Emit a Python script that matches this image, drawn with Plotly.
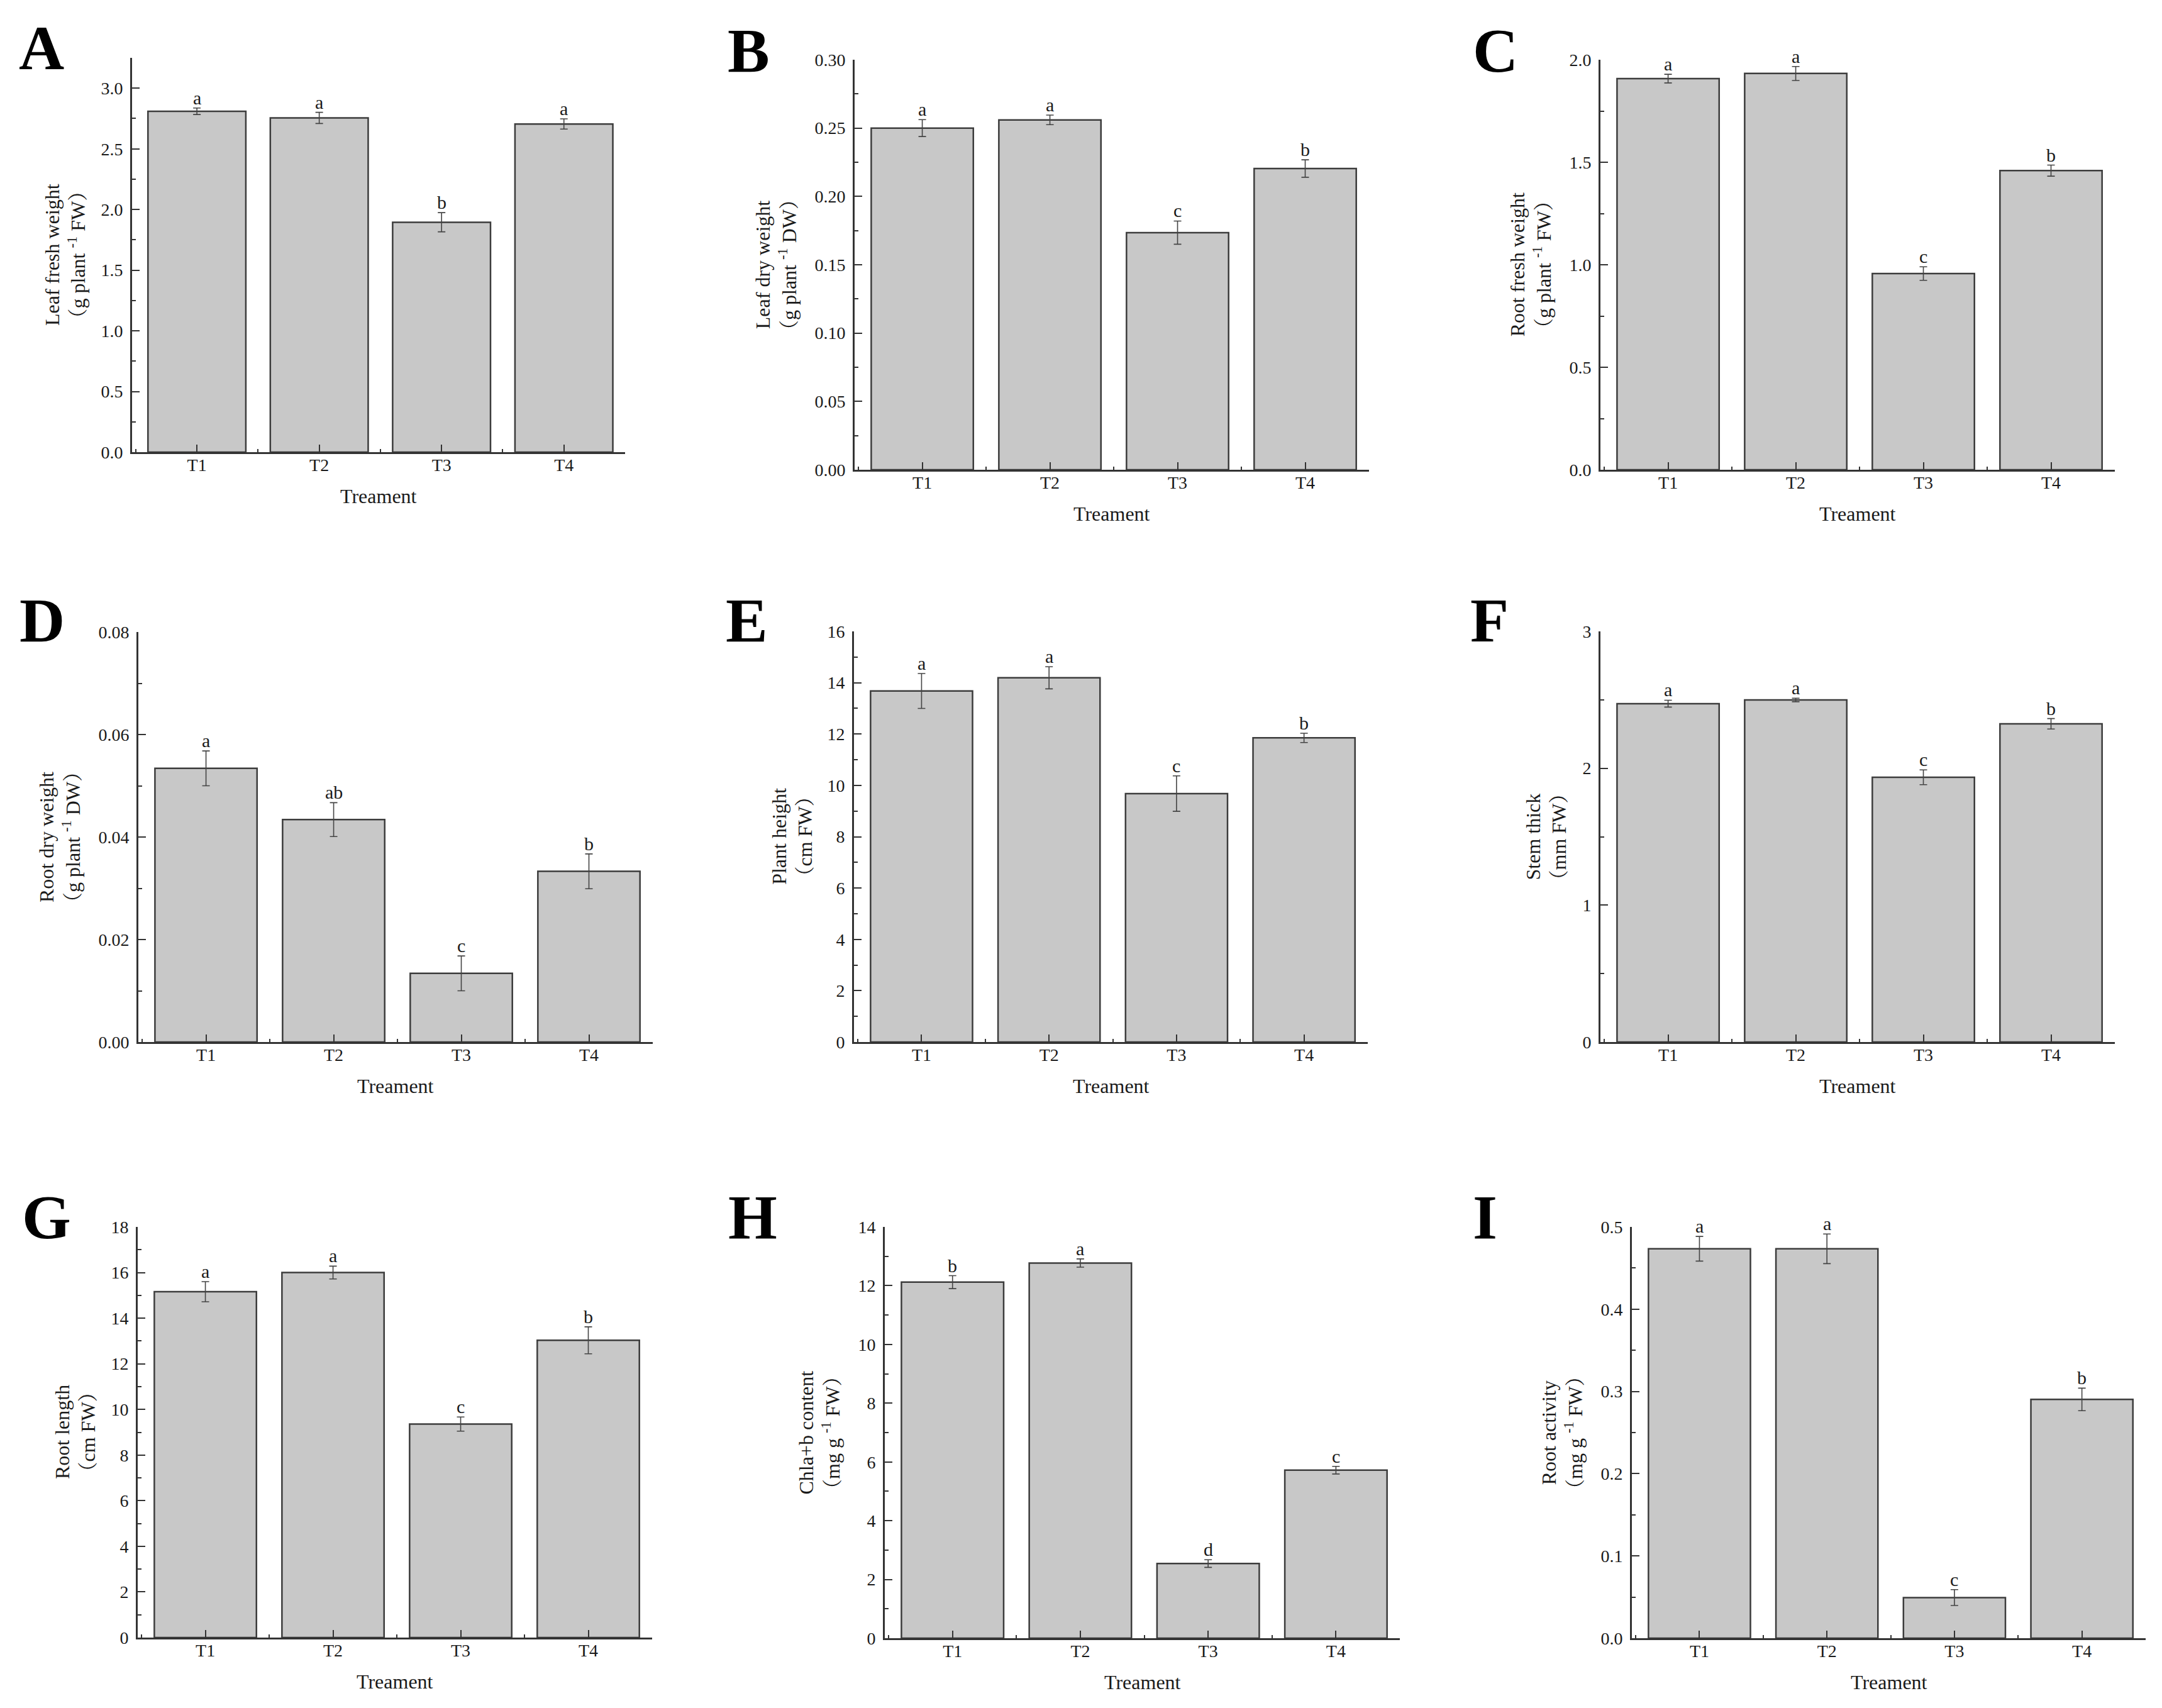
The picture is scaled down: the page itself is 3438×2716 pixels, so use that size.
import plotly.graph_objects as go

W, H = 3438, 2716

treatments = ["T1", "T2", "T3", "T4"]

leaf_fresh = [2.81, 2.755, 1.895, 2.705]
leaf_fresh_err = [0.027, 0.046, 0.079, 0.042]
leaf_fresh_sig = ["a", "a", "b", "a"]

leaf_dry = [0.250, 0.256, 0.1735, 0.2204]
leaf_dry_err = [0.0062, 0.0035, 0.0085, 0.0064]
leaf_dry_sig = ["a", "a", "c", "b"]

root_fresh = [1.908, 1.933, 0.957, 1.459]
root_fresh_err = [0.021, 0.034, 0.033, 0.027]
root_fresh_sig = ["a", "a", "c", "b"]

root_dry = [0.0534, 0.0434, 0.0134, 0.0333]
root_dry_err = [0.0034, 0.0033, 0.0034, 0.0034]
root_dry_sig = ["a", "ab", "c", "b"]

plant_height = [13.68, 14.19, 9.68, 11.85]
plant_height_err = [0.68, 0.43, 0.69, 0.18]
plant_height_sig = ["a", "a", "c", "b"]

stem_thick = [2.472, 2.499, 1.934, 2.325]
stem_thick_err = [0.025, 0.013, 0.054, 0.038]
stem_thick_sig = ["a", "a", "c", "b"]

root_length = [15.16, 16.0, 9.36, 13.03]
root_length_err = [0.44, 0.28, 0.31, 0.59]
root_length_sig = ["a", "a", "c", "b"]

chl_content = [12.12, 12.77, 2.54, 5.72]
chl_content_err = [0.22, 0.14, 0.13, 0.13]
chl_content_sig = ["b", "a", "d", "c"]

root_activity = [0.4734, 0.4734, 0.0494, 0.2903]
root_activity_err = [0.015, 0.018, 0.0097, 0.0137]
root_activity_sig = ["a", "a", "c", "b"]

panels = [
    dict(label="A", vals=leaf_fresh, err=leaf_fresh_err, sig=leaf_fresh_sig,
         title="Leaf fresh weight<br>（g plant <sup>-1</sup> FW）",
         yrange=[0, 3.25], dtick=0.5, fmt=".1f",
         px=(210, 994, 92, 719), ytx=103, lab=(28, 76)),
    dict(label="B", vals=leaf_dry, err=leaf_dry_err, sig=leaf_dry_sig,
         title="Leaf dry weight<br>（g plant <sup>-1</sup> DW）",
         yrange=[0, 0.30], dtick=0.05, fmt=".2f",
         px=(1359, 2177, 95, 747), ytx=1234, lab=(1155, 80)),
    dict(label="C", vals=root_fresh, err=root_fresh_err, sig=root_fresh_sig,
         title="Root fresh weight<br>（g plant <sup>-1</sup> FW）",
         yrange=[0, 2.0], dtick=0.5, fmt=".1f",
         px=(2545, 3363, 95, 747), ytx=2434, lab=(2340, 80)),
    dict(label="D", vals=root_dry, err=root_dry_err, sig=root_dry_sig,
         title="Root dry weight<br>（g plant <sup>-1</sup> DW）",
         yrange=[0, 0.08], dtick=0.02, fmt=".2f",
         px=(220, 1038, 1005, 1657), ytx=95, lab=(29, 986)),
    dict(label="E", vals=plant_height, err=plant_height_err, sig=plant_height_sig,
         title="Plant height<br>（cm FW）",
         yrange=[0, 16], dtick=2, fmt="d",
         px=(1358, 2175, 1004, 1657), ytx=1259, lab=(1152, 986)),
    dict(label="F", vals=stem_thick, err=stem_thick_err, sig=stem_thick_sig,
         title="Stem thick<br>（mm FW）",
         yrange=[0, 3], dtick=1, fmt="d",
         px=(2545, 3363, 1004, 1657), ytx=2458, lab=(2336, 986)),
    dict(label="G", vals=root_length, err=root_length_err, sig=root_length_sig,
         title="Root length<br>（cm FW）",
         yrange=[0, 18], dtick=2, fmt="d",
         px=(219, 1037, 1951, 2604), ytx=119, lab=(33, 1935)),
    dict(label="H", vals=chl_content, err=chl_content_err, sig=chl_content_sig,
         title="Chla+b content<br>（mg g <sup>-1</sup> FW）",
         yrange=[0, 14], dtick=2, fmt="d",
         px=(1407, 2226, 1951, 2605), ytx=1303, lab=(1156, 1935)),
    dict(label="I", vals=root_activity, err=root_activity_err, sig=root_activity_sig,
         title="Root activity<br>（mg g <sup>-1</sup> FW）",
         yrange=[0, 0.5], dtick=0.1, fmt=".1f",
         px=(2595, 3412, 1951, 2605), ytx=2484, lab=(2340, 1935)),
]

FONT = "Liberation Serif, Times New Roman, Noto Serif CJK SC, Noto Sans CJK SC, serif"
AXC = "#333333"
xpos = [1, 2, 3, 4]

fig = go.Figure()
layout = dict(
    template="none",
    width=W, height=H, margin=dict(l=0, r=0, t=0, b=0, pad=0, autoexpand=False),
    paper_bgcolor="white", plot_bgcolor="white", showlegend=False,
    font=dict(family=FONT, color="#1a1a1a", size=28),
)
annotations = []

for i, p in enumerate(panels, start=1):
    sfx = "" if i == 1 else str(i)
    x0, x1, yt, yb = p["px"]
    fig.add_trace(go.Bar(
        x=xpos, y=p["vals"], width=0.8,
        marker=dict(color="#c8c8c8", line=dict(color="#3c3c3c", width=2.5)),
        error_y=dict(type="data", array=p["err"], visible=True,
                     color="#444444", thickness=1.6, width=6),
        xaxis="x" + sfx, yaxis="y" + sfx, hoverinfo="skip",
    ))
    layout["xaxis" + sfx] = dict(
        domain=[x0 / W, x1 / W], anchor="y" + sfx, range=[0.47, 4.5],
        automargin=False,
        tickmode="array", tickvals=xpos, ticktext=treatments,
        ticks="inside", ticklen=12, tickwidth=2, tickcolor=AXC,
        minor=dict(tickmode="linear", tick0=0.5, dtick=1, ticks="inside",
                   ticklen=5, tickwidth=2, tickcolor=AXC),
        showline=True, linecolor=AXC, linewidth=3, showgrid=False, zeroline=False,
        tickfont=dict(size=28, family=FONT), ticklabelstandoff=-7, fixedrange=True,
    )
    layout["yaxis" + sfx] = dict(
        domain=[1 - yb / H, 1 - yt / H], anchor="x" + sfx, range=p["yrange"],
        automargin=False,
        tickmode="linear", tick0=0, dtick=p["dtick"], tickformat=p["fmt"],
        ticks="inside", ticklen=12, tickwidth=2, tickcolor=AXC,
        minor=dict(tickmode="linear", tick0=0, dtick=p["dtick"] / 2, ticks="inside",
                   ticklen=6, tickwidth=2, tickcolor=AXC),
        showline=True, linecolor=AXC, linewidth=3, showgrid=False, zeroline=False,
        tickfont=dict(size=28, family=FONT), ticklabelstandoff=6, fixedrange=True,
    )
    # significance letters
    for xv, v, e, s in zip(xpos, p["vals"], p["err"], p["sig"]):
        annotations.append(dict(
            x=xv, y=v + e, xref="x" + sfx, yref="y" + sfx, text=s,
            showarrow=False, yanchor="bottom", xanchor="center", yshift=-2,
            font=dict(size=30, family=FONT, color="#1a1a1a"),
        ))
    # y-axis title
    annotations.append(dict(
        x=p["ytx"] / W, y=1 - (yt + yb) / 2 / H, xref="paper", yref="paper",
        text=p["title"], textangle=-90, showarrow=False,
        xanchor="center", yanchor="middle",
        font=dict(size=32, family=FONT, color="#1a1a1a"),
    ))
    # x-axis title
    annotations.append(dict(
        x=(x0 + x1) / 2 / W, y=1 - (yb + 70) / H, xref="paper", yref="paper",
        text="Treament", showarrow=False, xanchor="center", yanchor="middle",
        font=dict(size=32, family=FONT, color="#1a1a1a"),
    ))
    # panel label
    lx, ly = p["lab"]
    annotations.append(dict(
        x=lx / W, y=1 - ly / H, xref="paper", yref="paper",
        text="<b>" + p["label"] + "</b>", showarrow=False,
        xanchor="left", yanchor="middle",
        font=dict(size=100, family=FONT, color="black"),
    ))

layout["annotations"] = annotations
fig.update_layout(**layout)

fig.write_html(
    "out.html",
    config={"displayModeBar": False, "staticPlot": True},
    post_script="document.body.style.margin='0';document.body.style.overflow='hidden';",
)
